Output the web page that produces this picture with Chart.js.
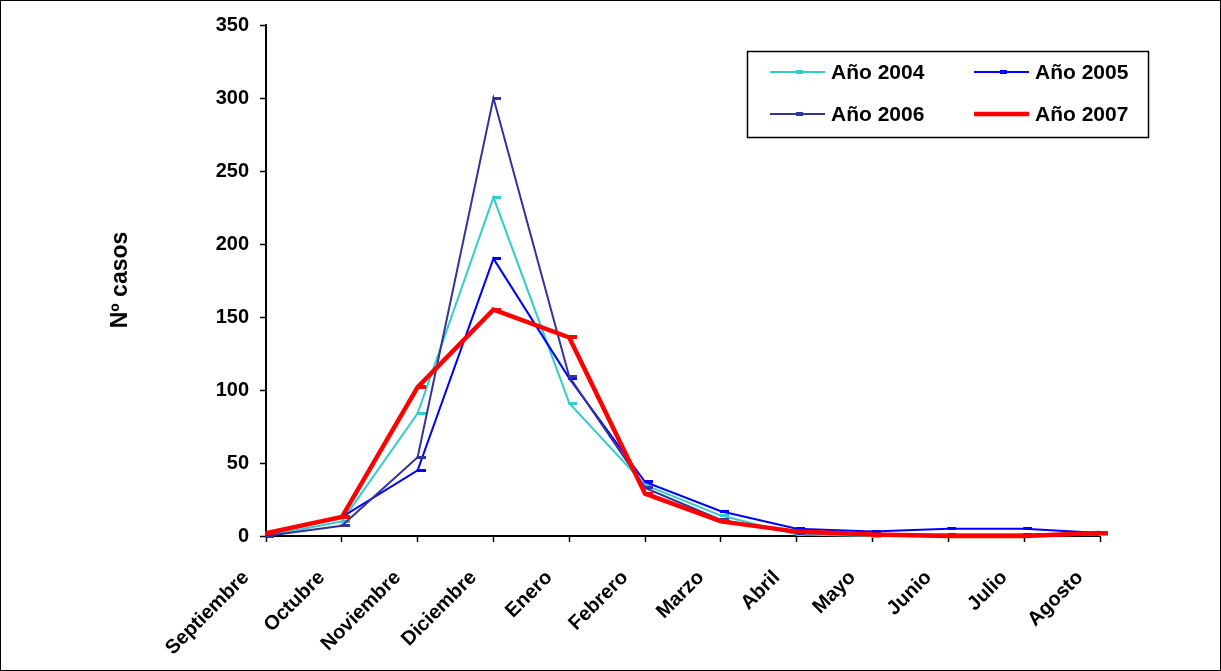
<!DOCTYPE html>
<html>
<head>
<meta charset="utf-8">
<script src="https://cdn.jsdelivr.net/npm/chart.js@4/dist/chart.umd.min.js"></script>
<style>
  html, body { margin: 0; padding: 0; background: #fff; }
  #wrap { width: 1221px; height: 671px; position: relative; }
</style>
</head>
<body>
<div id="wrap"><canvas id="myChart" width="1221" height="671"></canvas></div>
<script>
var meses = ["Septiembre", "Octubre", "Noviembre", "Diciembre", "Enero", "Febrero",
             "Marzo", "Abril", "Mayo", "Junio", "Julio", "Agosto"];

var casos2004 = [0, 10, 84, 232, 91, 35, 14, 1, 0, 0, 0, 1];
var casos2005 = [1, 13, 45, 190, 108, 37, 17, 5, 3, 5, 5, 2];
var casos2006 = [0, 7, 54, 300, 109, 33, 11, 2, 1, 1, 1, 2];
var casos2007 = [2, 13, 102, 155, 136, 29, 10, 3, 1, 0, 0, 2];

var yTicks = [0, 50, 100, 150, 200, 250, 300, 350];

var FONT = "'Liberation Sans', Arial, sans-serif";

// little dash marker that sits to the right of each point, like Excel's "-" marker
function dash(color, thick) {
    var c = document.createElement('canvas');
    c.width = 16;
    c.height = thick;
    var g = c.getContext('2d');
    g.fillStyle = color;
    g.fillRect(7, 0, 9, thick);
    return c;
}

function serie(label, data, color, width, order) {
    return {
        label: label,
        data: data,
        borderColor: color,
        backgroundColor: color,
        borderWidth: width,
        pointStyle: dash(color, width > 2 ? 4 : 3),
        pointRadius: 4,
        pointHoverRadius: 4,
        tension: 0,
        clip: false,
        order: order
    };
}

// legend box inside the plot, two columns, plus the outer frame and the y title
var extras = {
    id: 'extras',
    afterDraw: function(chart) {
        var ctx = chart.ctx;
        ctx.save();

        ctx.strokeStyle = '#000';
        ctx.lineWidth = 1;
        ctx.strokeRect(0.5, 0.5, 1220, 670);

        ctx.translate(121, 280);
        ctx.rotate(-Math.PI / 2);
        ctx.fillStyle = '#000';
        ctx.font = 'bold 23px ' + FONT;
        ctx.textAlign = 'center';
        ctx.textBaseline = 'middle';
        ctx.fillText('Nº casos', 0, 0);
        ctx.setTransform(1, 0, 0, 1, 0, 0);

        ctx.lineWidth = 1.5;
        ctx.strokeRect(747.5, 51.5, 401, 86);

        var pos = [[770, 72], [974, 72], [770, 114], [974, 114]];
        ctx.font = 'bold 21px ' + FONT;
        ctx.textAlign = 'left';
        chart.data.datasets.forEach(function(ds, i) {
            var x = pos[i][0], y = pos[i][1];
            ctx.strokeStyle = ds.borderColor;
            ctx.lineWidth = ds.borderWidth;
            ctx.beginPath();
            ctx.moveTo(x, y);
            ctx.lineTo(x + 55, y);
            ctx.stroke();
            ctx.fillStyle = ds.borderColor;
            ctx.fillRect(x + 26, y - 2, 7, 4);
            ctx.fillStyle = '#000';
            ctx.fillText(ds.label, x + 61, y + 1);
        });
        ctx.restore();
    }
};

var ctx = document.getElementById("myChart");

var myChart = new Chart(ctx, {
    type: 'line',
    data: {
        labels: meses,
        datasets: [
            serie('Año 2004', casos2004, '#33CCCC', 2, 3),
            serie('Año 2005', casos2005, '#0000FF', 2, 2),
            serie('Año 2006', casos2006, '#333399', 2, 1),
            serie('Año 2007', casos2007, '#FF0000', 4.5, 0)
        ]
    },
    options: {
        responsive: false,
        animation: false,
        layout: { padding: { left: 0, top: 25, right: 121, bottom: 0 } },
        plugins: {
            legend: { display: false },
            tooltip: { enabled: false }
        },
        scales: {
            x: {
                offset: false,
                afterFit: function(scale) { scale.height = 135; },
                grid: {
                    drawOnChartArea: false,
                    tickLength: 6,
                    tickColor: '#000',
                    tickWidth: 1.5
                },
                border: { color: '#000', width: 2 },
                ticks: {
                    color: '#000',
                    font: { family: FONT, size: 20, weight: 'bold' },
                    minRotation: 45,
                    maxRotation: 45,
                    autoSkip: false,
                    padding: 24,
                    labelOffset: -20
                }
            },
            y: {
                min: 0,
                max: 350,
                afterFit: function(scale) { scale.width = 266; },
                afterBuildTicks: function(scale) {
                    scale.ticks = yTicks.map(function(v) { return { value: v }; });
                },
                grid: {
                    drawOnChartArea: false,
                    tickLength: 6,
                    tickColor: '#000',
                    tickWidth: 1.5
                },
                border: { color: '#000', width: 2 },
                ticks: {
                    color: '#000',
                    font: { family: FONT, size: 20, weight: 'bold' },
                    padding: 11
                }
            }
        }
    },
    plugins: [extras]
});
</script>
</body>
</html>
